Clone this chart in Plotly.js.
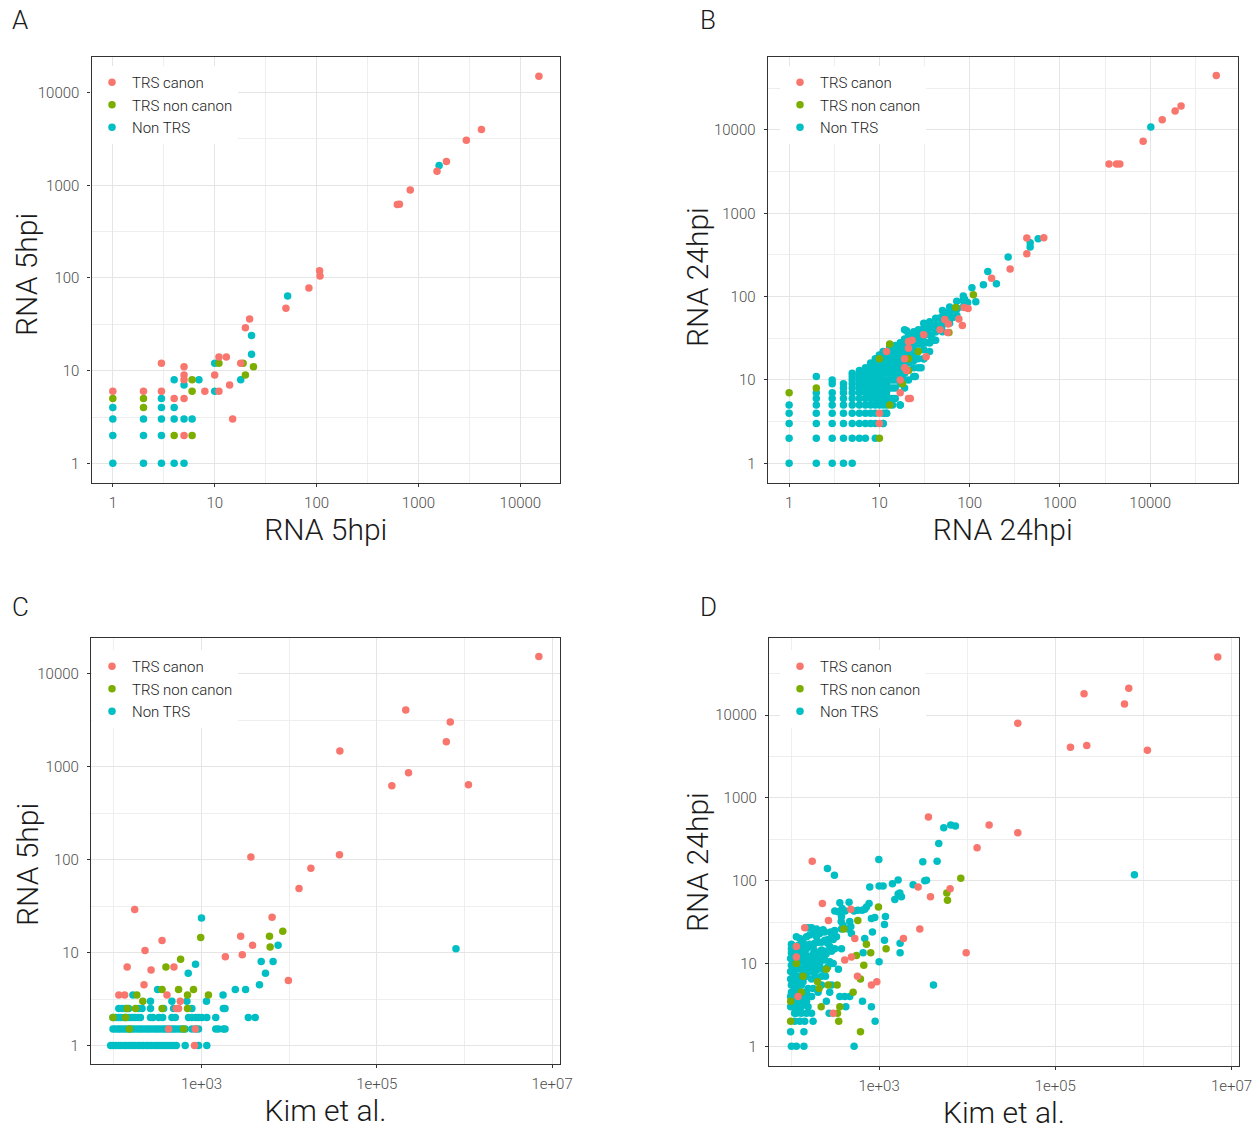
<!DOCTYPE html>
<html>
<head>
<meta charset="utf-8">
<script src="https://cdn.plot.ly/plotly-3.0.1.min.js"></script>
<style>
html,body{margin:0;padding:0;background:#ffffff;}
#chart{width:1259px;height:1131px;}
</style>
</head>
<body>
<div id="chart"></div>
<script>
// ---------------- DATA ----------------
// Series names / categories
const seriesNames = ['TRS canon', 'TRS non canon', 'Non TRS'];
const seriesColors = ['#F8766D', '#7CAE00', '#00BFC4'];

// Axis tick labels
const countTicks = [1, 10, 100, 1000, 10000];
const countTickText = ['1', '10', '100', '1000', '10000'];
const kimTicks = [1e3, 1e5, 1e7];
const kimTickText = ['1e+03', '1e+05', '1e+07'];

// Panel A : RNA 5hpi vs RNA 5hpi  [x, y]
const aCanon = [[15200,15000],[4150,4000],[2950,3070],[1880,1810],[1520,1415],[830,890],[620,620],[650,625],[107,120],[108,105],[84,78],[50,47],[22,36],[20,29],[18,12],[13,14],[11,14],[10,9],[11,6],[8,6],[14,7],[15,3],[5,11],[5,9],[5,8],[4,5],[5,5],[5,2],[3,12],[3,6],[2,6],[1,6]];
const aNonCanon = [[19,12],[24,11],[20,9],[11,12],[6,8],[6,6],[6,2],[4,2],[2,5],[2,4],[1,5]];
const aNonTrs = [[1595,1630],[52,64],[23,24],[23,15],[10,12],[18,8],[10,6],[7,8],[4,8],[5,7],[3,5],[3,4],[4,4],[3,3],[4,3],[5,3],[6,3],[3,2],[2,3],[2,2],[3,1],[4,1],[5,1],[2,1],[1,4],[1,3],[1,2],[1,1]];

// Panel B : RNA 24hpi vs RNA 24hpi  [x, y]
const bCanon = [[54000,45000],[22000,19400],[18900,16900],[13600,13300],[8360,7310],[3500,3920],[4240,3920],[4610,3920],[663,509],[430,504],[430,327],[281,214],[175,166],[87,74],[96,72],[76,54],[83,45],[53,53],[58,47],[47,40],[57,37],[31,35],[23,30],[21,24],[33,19],[12,22],[19,18],[20,13],[19,14],[21,29],[17,10],[22,6],[21,6],[17,7],[10,3],[10,4]];
const bNonCanon = [[110,105],[70,74],[59,37],[27,22],[13,27],[10,18],[21,13],[21,18],[18,9],[13,5],[10,2],[1,7],[2,8]];
const bNonTrs = [[10170,10860],[574,495],[468,443],[468,393],[267,299],[159,201],[198,143],[142,139],[106,128],[88,93],[95,85],[117,87],[73,72],[67,70],[57,64],[65,56],[49,43],[42,45],[38,32],[34,37],[19,40],[30,31],[26,34],[28,27],[21,24],[31,18],[15,22],[11,19],[29,14],[25,11],[17,5],[12,4],[11,3],[20,39],[36,28],[42,38],[50,47],[60,60],[72,72],[85,90],[46,55],[55,50],[40,30],[33,28]];
// low-count lattice of Non TRS points in panel B: [x, [y values]]
const bNonTrsLattice = [
  [1,[1,2,3,4,5]],
  [2,[1,2,3,4,5,6,7,11]],
  [3,[1,2,3,4,5,6,7,9,10]],
  [4,[1,2,3,4,5,6,7,8,9]],
  [5,[1,2,3,4,5,6,7,8,9,10,11,12]],
  [6,[2,3,4,5,6,7,8,9,10,11,12,13]],
  [7,[2,3,4,5,6,7,8,9,10,11,12,13,14]],
  [8,[3,4,5,6,7,8,9,10,11,12,13,14,15,16]],
  [9,[2,3,4,5,6,7,8,9,10,11,12,13,14,16,18]],
  [10,[5,6,7,8,9,10,11,12,14,16,20]],
  [11,[3,4,5,6,7,8,9,10,12,14,16,18,20,22]],
  [12,[4,5,6,7,8,9,10,12,14,16,18,20]],
  [13,[6,8,10,12,14,16,18,20,23,25]],
  [14,[5,6,8,10,12,14,16,18,21,24]],
  [15,[6,8,10,12,14,16,18,20,22,26]],
  [17,[5,9,11,13,15,18,21,24,28]],
  [19,[8,10,12,17,20,23,27,31]],
  [21,[10,16,19,22,26,30,35]],
  [24,[11,14,17,20,24,28,33,38]],
  [27,[14,18,27,32,40]],
  [31,[18,23,28,34,42,48]],
  [36,[22,28,35,42,50]],
  [42,[30,38,46,55]],
  [50,[38,47,58,68]],
  [60,[48,60,75]],
  [72,[60,72,88]],
  [85,[75,90,102]]
];

// Panel C : Kim et al. vs RNA 5hpi  [x, y]
const cCanon = [[7060000,15350],[214000,4090],[689000,3035],[621000,1865],[37900,1479],[230000,865],[148500,626],[1110000,642],[3660,107],[37500,113],[17700,81],[12970,49],[6390,24],[2800,15],[3830,12],[2920,9.5],[1872,9],[9800,5],[173,29],[355,13.5],[227,10.5],[142,7],[266,6.5],[221,4.5],[485,7],[114,3.5],[133,3.5],[404,3.5],[573,3],[516,2.5],[548,2.5],[850,1.5],[833,1],[422,1.5]];
const cNonCanon = [[8460,17],[5970,15],[6070,11.5],[980,14.5],[578,8.5],[393,7],[811,4],[548,4],[355,4],[693,3.5],[1200,3.5],[183,3.5],[214,3],[142,2.5],[177,2.5],[355,2.5],[693,2.5],[98,2],[136,2],[625,1.5],[150,1.5]];
const cNonTrs = [[7480,12],[4800,8],[6560,8],[5370,6],[4590,4.5],[800000,11],[1000,23.5],[855,7.5],[706,6],[316,4],[1762,3.5],[1140,3],[2432,4],[3186,4],[1778,2.5],[1857,2.5],[3420,2],[4100,2],[1560,1.5],[1778,1.5],[1857,1.5],[165,3.5],[262,3],[460,3],[682,3],
  [114,2.5],[124,2.5],[136,2.5],[148,2.5],[192,2.5],[210,2.5],[262,2.5],[370,2.5],[481,2.5],[777,2.5],
  [98,2],[105,2],[113,2],[120,2],[130,2],[139,2],[151,2],[162,2],[174,2],[188,2],[201,2],[262,2],[280,2],[325,2],[361,2],[460,2],[503,2],[712,2],[777,2],[862,2],[925,2],[1009,2],[1150,2],[1455,2],
  [98,1.5],[105,1.5],[113,1.5],[120,1.5],[130,1.5],[139,1.5],[151,1.5],[162,1.5],[174,1.5],[188,1.5],[201,1.5],[216,1.5],[234,1.5],[250,1.5],[268,1.5],[290,1.5],[311,1.5],[334,1.5],[361,1.5],[387,1.5],[415,1.5],[449,1.5],[481,1.5],[516,1.5],[560,1.5],[600,1.5],[652,1.5],[777,1.5],[862,1.5],[925,1.5],[1455,1.5],
  [92,1],[98,1],[105,1],[113,1],[120,1],[130,1],[139,1],[151,1],[162,1],[174,1],[188,1],[201,1],[216,1],[234,1],[250,1],[268,1],[290,1],[311,1],[334,1],[361,1],[387,1],[415,1],[449,1],[481,1],[516,1],[652,1],[925,1],[1150,1]];

// Panel D : Kim et al. vs RNA 24hpi  [x, y]
const dCanon = [[6980000,50200],[682000,21000],[212000,18100],[610000,13600],[37500,7930],[148600,4066],[227500,4297],[1110000,3742],[3630,585],[17740,469],[37500,379],[12943,249],[2773,84],[3828,64],[6398,80],[174,171],[227,53],[266,33],[143,27],[477,45],[530,20],[485,12],[407,11],[568,7],[818,5.5],[942,6],[2895,26],[1889,20],[9730,13.5],[115,16],[115,12],[120,4],[301,2.5]];
const dNonCanon = [[8453,107],[5863,71],[5971,58],[983,48],[573,33],[397,26],[718,17],[803,13.5],[1200,15],[670,9.5],[553,12.5],[614,6.5],[507,4.5],[334,5.5],[264,5.5],[252,8.5],[200,6],[208,5],[131,4.5],[99,3.5],[348,2],[337,2.5],[358,3],[220,3],[614,1.5],[99,2],[137,7],[115,10]];
const dNonTrs = [[259,140],[311,116],[992,180],[3133,169],[4553,172],[4754,281],[5420,435],[6503,469],[7346,456],[791000,118],[4140,5.5],[783,84],[1000,86],[1110,86],[1416,92],[1644,102],[2432,89],[3298,100],[3446,101],[1507,59],[1644,69],[1792,64],[1718,71],[358,54],[456,55],[718,48],[769,53],[641,44],[573,44],[520,43],[314,43],[343,42],[380,46],[411,43],[687,45],[818,35],[893,36],[1180,37],[1150,29.5],[840,24],[371,32],[374,26],[477,28],[485,23],[445,26],[282,24],[242,24],[231,25.5],[195,26],[171,27],[156,27],[374,37],[390,29],[464,32],[687,20],[1150,19],[1731,17.5],[1731,13.5],[658,13.5],[328,21],[301,19.5],[264,19.5],[242,19],[203,18],[186,17.5],[163,17],[143,16.5],[120,16.5],[115,21],[101,17],[314,15],[374,15],[288,14],[222,14.5],[203,13],[178,13],[150,12.5],[131,13],[115,12.5],[1000,10.5],[345,8.5],[275,10.5],[242,11],[212,10],[186,9.5],[156,10],[137,11],[120,10],[106,11],[99,11.5],[101,9.5],[115,8.5],[143,8.5],[171,8.5],[203,8.5],[231,8.5],[301,10],[106,7.5],[120,7],[150,7],[171,6.5],[195,6.5],[246,7],[101,5.5],[115,5.5],[131,5.5],[156,5],[178,5],[222,5.5],[288,5.5],[101,4.5],[115,4.5],[137,4.5],[171,4],[203,4.5],[252,3.5],[358,4],[407,4],[464,4],[647,3.5],[818,3],[275,4.5],[101,3.5],[120,3.5],[150,3.5],[120,3],[106,3],[156,3],[419,3],[271,2.5],[115,2.5],[131,2.5],[150,2.5],[171,2.5],[110,2],[126,2],[143,2],[178,2],[901,2],[99,1.5],[140,1.5],[101,1],[115,1],[140,1],[520,1],[99,4],[110,4],[99,3],[131,3],[110,2.5],[120,5],[137,6],[150,4.5],[110,6.5],[131,8.5],
  [99,8],[99,6.5],[110,5],[106,4],[106,6],[126,6],[126,4],[126,3],[137,3.5],[143,4],[126,20],[137,18],[150,21],[163,22],[178,23],[195,21],[212,23],[126,15],[150,15],[178,15.5],[110,14],[160,11.5],[178,10.5],[195,12],[222,12],[250,13],[203,10.5],[143,10],[126,11],[115,14],[101,13.5],[101,15],[171,12],[186,14],[160,8],[186,7.5],[137,8],[222,7],[260,9],[240,14],[275,16],[260,17.5],[222,18],[288,23],[313,25]];

// ---------------- BUILD ----------------
const FONT = 'Roboto, "Liberation Sans", Arial, sans-serif';
const xs = pts => pts.map(p => p[0]);
const ys = pts => pts.map(p => p[1]);
const expandLattice = cols => {
  const out = [];
  cols.forEach(c => c[1].forEach(y => out.push([c[0], y])));
  return out;
};

function panelTraces(idx, canon, nonCanon, nonTrs) {
  const sfx = idx === 1 ? '' : String(idx);
  const leg = idx === 1 ? 'legend' : 'legend' + idx;
  const mk = (k, pts) => ({
    type: 'scatter', mode: 'markers', name: seriesNames[k],
    x: xs(pts), y: ys(pts), xaxis: 'x' + sfx, yaxis: 'y' + sfx,
    legend: leg, legendrank: k + 1,
    marker: {color: seriesColors[k], size: 7.5, line: {width: 0}},
    hoverinfo: 'x+y+name'
  });
  // Non TRS drawn first, coloured TRS groups on top
  return [mk(2, nonTrs), mk(1, nonCanon), mk(0, canon)];
}

const traces = [].concat(
  panelTraces(1, aCanon, aNonCanon, aNonTrs),
  panelTraces(2, bCanon, bNonCanon, bNonTrs.concat(expandLattice(bNonTrsLattice))),
  panelTraces(3, cCanon, cNonCanon, cNonTrs),
  panelTraces(4, dCanon, dNonCanon, dNonTrs)
);

const minorCount = [Math.sqrt(10), Math.sqrt(10)*10, Math.sqrt(10)*100, Math.sqrt(10)*1000, Math.sqrt(10)*10000];
const minorKim = [1e2, 1e4, 1e6];

function axis(isX, anchor, domain, range, tickvals, ticktext, minorvals, title) {
  const a = {
    type: 'log', anchor: anchor, domain: domain, range: range,
    tickmode: 'array', tickvals: tickvals, ticktext: ticktext,
    showgrid: true, gridcolor: '#E5E5E5', gridwidth: 1.3,
    minor: {showgrid: true, gridcolor: '#EEEEEE', gridwidth: 0.8, tickmode: 'array', tickvals: minorvals, ticks: ''},
    zeroline: false, showline: true, mirror: true, linecolor: '#333333', linewidth: 1.3,
    ticks: 'outside', ticklen: 3, tickwidth: 1.1, tickcolor: '#333333',
    ticklabelstandoff: isX ? 3 : 5,
    tickfont: {family: FONT, size: 15, color: '#4D4D4D', weight: 300},
    automargin: false, fixedrange: true
  };
  if (isX) {
    a.title = {text: title, font: {family: FONT, size: 30, color: '#1A1A1A', weight: 300}, standoff: 5};
  }
  return a;
}

function legendAt(x, y) {
  return {
    x: x, y: y, xanchor: 'left', yanchor: 'top', xref: 'paper', yref: 'paper',
    bgcolor: '#FFFFFF', borderwidth: 0, traceorder: 'normal',
    font: {family: FONT, size: 15, color: '#1A1A1A', weight: 300},
    itemclick: false, itemdoubleclick: false
  };
}

function panelLabel(text, x, y) {
  return {text: text, x: x, y: y, xref: 'paper', yref: 'paper', xanchor: 'center', yanchor: 'middle',
    showarrow: false, font: {family: FONT, size: 26, color: '#1A1A1A', weight: 300}};
}

// y-axis titles placed close to the tick labels (as in the reference)
function yTitle(text, x, y) {
  return {text: text, x: x, y: y, xref: 'paper', yref: 'paper', xanchor: 'center', yanchor: 'middle',
    textangle: -90, showarrow: false, font: {family: FONT, size: 30, color: '#1A1A1A', weight: 300}};
}

const layout = {
  width: 1259, height: 1131,
  margin: {l: 0, r: 0, t: 0, b: 0},
  paper_bgcolor: '#FFFFFF', plot_bgcolor: '#FFFFFF',
  showlegend: true, hovermode: 'closest',
  font: {family: FONT, color: '#1A1A1A'},
  xaxis:  axis(true,  'y',  [0.0727, 0.4448], [-0.209, 4.389], countTicks, countTickText, minorCount, 'RNA 5hpi'),
  yaxis:  axis(false, 'x',  [0.5732, 0.9500], [-0.209, 4.389], countTicks, countTickText, minorCount, 'RNA 5hpi'),
  xaxis2: axis(true,  'y2', [0.6098, 0.9831], [-0.237, 4.97], countTicks, countTickText, minorCount, 'RNA 24hpi'),
  yaxis2: axis(false, 'x2', [0.5732, 0.9499], [-0.233, 4.88], countTicks, countTickText, minorCount, 'RNA 24hpi'),
  xaxis3: axis(true,  'y3', [0.0723, 0.4448], [1.74, 7.09], kimTicks, kimTickText, minorKim, 'Kim et al.'),
  yaxis3: axis(false, 'x3', [0.0592, 0.4362], [-0.2, 4.39], countTicks, countTickText, minorCount, 'RNA 5hpi'),
  xaxis4: axis(true,  'y4', [0.6108, 0.9841], [1.75, 7.085], kimTicks, kimTickText, minorKim, 'Kim et al.'),
  yaxis4: axis(false, 'x4', [0.0575, 0.4362], [-0.238, 4.934], countTicks, countTickText, minorCount, 'RNA 24hpi'),
  legend:  legendAt(92/1259, 1 - 66/1131),
  legend2: legendAt(780/1259, 1 - 66/1131),
  legend3: legendAt(92/1259, 1 - 650/1131),
  legend4: legendAt(780/1259, 1 - 650/1131),
  annotations: [
    panelLabel('A', 20/1259, 1 - 20/1131),
    panelLabel('B', 708/1259, 1 - 20/1131),
    panelLabel('C', 20/1259, 1 - 607/1131),
    panelLabel('D', 708/1259, 1 - 607/1131),
    yTitle('RNA 5hpi', 27/1259, 1 - 275/1131),
    yTitle('RNA 24hpi', 697/1259, 1 - 277/1131),
    yTitle('RNA 5hpi', 27/1259, 1 - 865/1131),
    yTitle('RNA 24hpi', 697/1259, 1 - 862/1131)
  ]
};

Plotly.newPlot('chart', traces, layout, {displayModeBar: false, responsive: false, staticPlot: false});
</script>
</body>
</html>
